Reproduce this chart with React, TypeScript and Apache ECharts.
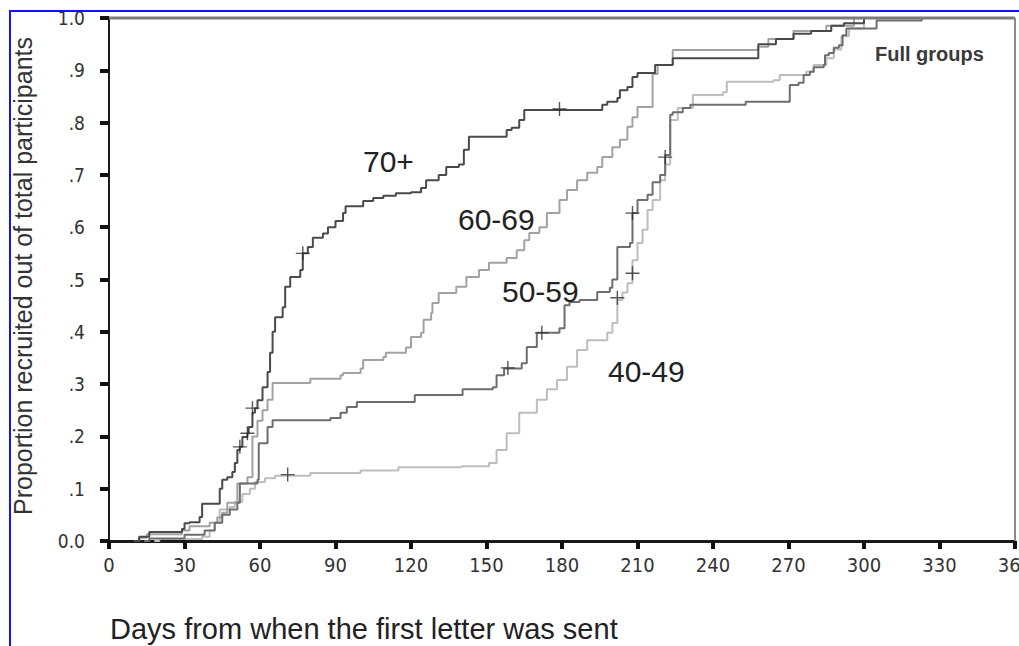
import React, { useEffect, useRef } from "react";
import * as echarts from "echarts";

// ---- data (day, cumulative proportion) ----
const group70: number[][] = [
  [10, 0], [12, 0.008], [16, 0.017], [29, 0.023], [30, 0.034], [32, 0.036], [36, 0.046], [37, 0.071],
  [43, 0.071], [44, 0.1], [45, 0.117], [47, 0.122], [49, 0.132], [50, 0.149], [51, 0.174], [52, 0.18],
  [53, 0.199], [55, 0.206], [55.5, 0.218], [57, 0.245], [58, 0.254], [59, 0.269], [61, 0.294], [63, 0.323],
  [64, 0.36], [65, 0.4], [66, 0.428], [69, 0.447], [70, 0.486], [72, 0.505], [76, 0.518], [77, 0.55],
  [79, 0.562], [81, 0.58], [85, 0.588], [87, 0.6], [90, 0.612], [93, 0.627], [94, 0.64], [101, 0.65],
  [105, 0.656], [109, 0.66], [114, 0.665], [120, 0.667], [124, 0.675], [126, 0.69], [131, 0.7], [134, 0.715],
  [139, 0.72], [141, 0.748], [143, 0.773], [158, 0.786], [160, 0.79], [163, 0.805], [165, 0.824], [196, 0.834],
  [198, 0.84], [202, 0.847], [203, 0.862], [206, 0.868], [208, 0.887], [210, 0.895], [217, 0.91], [224, 0.923],
  [258, 0.95], [265, 0.96], [272, 0.97], [279, 0.975], [287, 0.985], [292, 0.99], [300, 1.0]
];
const group6069: number[][] = [
  [10, 0], [12, 0.006], [15, 0.013], [29, 0.02], [32, 0.028], [40, 0.035], [43, 0.045], [45, 0.054],
  [47, 0.073], [51, 0.11], [55, 0.122], [57, 0.2], [59, 0.23], [61, 0.25], [63, 0.27], [65, 0.302],
  [80, 0.31], [92, 0.317], [93, 0.321], [100, 0.33], [101, 0.346], [109, 0.352], [110, 0.36], [118, 0.37],
  [120, 0.39], [124, 0.398], [125, 0.423], [128, 0.436], [128.5, 0.455], [131, 0.474], [138, 0.486], [142, 0.505],
  [147, 0.518], [151, 0.532], [158, 0.541], [162, 0.556], [165, 0.575], [167, 0.589], [171, 0.6], [174, 0.627],
  [179, 0.652], [182, 0.671], [186, 0.69], [190, 0.704], [194, 0.715], [196, 0.734], [200, 0.753], [203, 0.767],
  [206, 0.792], [208, 0.81], [210, 0.83], [216, 0.893], [218, 0.91], [224, 0.939], [258, 0.945], [262, 0.96],
  [272, 0.975], [285, 0.985], [296, 1.0]
];
const group5059: number[][] = [
  [14, 0], [16, 0.005], [30, 0.012], [38, 0.02], [42, 0.035], [45, 0.05], [48, 0.06], [51, 0.073],
  [52, 0.11], [59, 0.117], [59.5, 0.187], [63, 0.218], [65, 0.231], [88, 0.235], [92, 0.245], [94.5, 0.256],
  [98.5, 0.266], [121.5, 0.279], [140.5, 0.29], [152.5, 0.294], [154, 0.317], [157, 0.33], [164, 0.34], [166, 0.371],
  [170, 0.398], [179, 0.407], [181, 0.451], [183, 0.457], [187, 0.461], [194, 0.476], [199, 0.484], [200, 0.5],
  [202, 0.562], [207, 0.57], [208, 0.627], [210, 0.652], [214, 0.662], [216, 0.686], [219, 0.7], [221, 0.738],
  [223, 0.815], [224, 0.82], [228, 0.828], [231, 0.834], [253, 0.84], [270.5, 0.872], [274, 0.876], [276, 0.891],
  [278.5, 0.897], [280, 0.906], [284, 0.91], [284.5, 0.929], [286, 0.933], [288, 0.943], [290, 0.948], [291.5, 0.967],
  [293, 0.98], [305, 0.995], [323, 1.0]
];
const group4049: number[][] = [
  [18, 0], [20, 0.004], [37, 0.008], [40, 0.02], [42, 0.035], [44, 0.06], [48, 0.065], [50, 0.075],
  [53, 0.09], [56, 0.1], [58, 0.113], [62, 0.12], [66, 0.125], [80, 0.13], [100, 0.135], [115, 0.141],
  [140, 0.143], [151, 0.149], [154, 0.174], [158, 0.206], [163, 0.245], [170, 0.27], [174, 0.29], [178, 0.308],
  [182, 0.333], [186, 0.365], [190, 0.384], [198, 0.398], [200, 0.417], [202, 0.461], [204, 0.475], [206, 0.493],
  [208, 0.537], [210, 0.57], [212, 0.595], [214, 0.633], [216, 0.652], [219, 0.69], [221, 0.72], [223, 0.805],
  [226, 0.828], [232, 0.853], [244, 0.858], [245.5, 0.878], [264, 0.881], [266.5, 0.891], [277, 0.897], [280, 0.91],
  [285, 0.923], [288, 0.94], [291, 0.965], [294, 0.98], [300, 1.0]
];
const censor70: number[][] = [[52, 0.18], [55, 0.206], [57, 0.254], [77, 0.55], [179, 0.826]];
const censor5059: number[][] = [[158.5, 0.331], [172, 0.398], [208, 0.627], [221, 0.734]];
const censor4049: number[][] = [[71, 0.127], [202, 0.465], [208, 0.512]];

const groupNames = ["70+", "60-69", "50-59", "40-49"];
const xTickValues = [0, 30, 60, 90, 120, 150, 180, 210, 240, 270, 300, 330, 360];
const yTickLabels = ["0.0", ".1", ".2", ".3", ".4", ".5", ".6", ".7", ".8", ".9", "1.0"];
const xTitle = "Days from when the first letter was sent";
const yTitle = "Proportion recruited out of total participants";
const noteText = "Full groups";

const W = 1019;
const H = 646;
const G = { left: 109, right: 4, top: 18, bottom: 105 };
const CROSS = "path://M6.3,0H7.7V6.3H14V7.7H7.7V14H6.3V7.7H0V6.3H6.3Z";
const NARROW = "'Liberation Sans Narrow', 'DejaVu Sans Condensed', 'Liberation Sans', sans-serif";
const SANS = "'Liberation Sans', Arial, sans-serif";

export default function App() {
  const ref = useRef<HTMLDivElement>(null);
  useEffect(() => {
    document.body.style.margin = "0";
    document.body.style.overflow = "hidden";
    if (!ref.current) return;
    const chart = echarts.init(ref.current, null, { renderer: "svg", width: W, height: H });
    const stepLine = (name: string, data: number[][], color: string, width: number) => ({
      name, type: "line", step: "end", data, symbol: "none",
      lineStyle: { color, width }, z: 3, silent: true,
    });
    const marks = (data: number[][]) => ({
      type: "scatter", data, symbol: CROSS, symbolSize: 14,
      itemStyle: { color: "#2a2a2a" }, z: 4, silent: true,
    });
    const px = (d: number) => G.left + (d / 360) * (W - G.left - G.right);
    const py = (p: number) => G.top + (1 - p) * (H - G.top - G.bottom);
    const label = (text: string, x: number, y: number) => ({
      type: "text", x, y, z: 10,
      style: { text, font: `30px ${SANS}`, fill: "#222", align: "left", verticalAlign: "top" },
    });
    chart.setOption({
      animation: false,
      backgroundColor: "#fff",
      grid: {
        left: G.left, right: G.right, top: G.top, bottom: G.bottom,
        containLabel: false, outerBoundsMode: "none",
      },
      xAxis: {
        type: "value", min: 0, max: 360, interval: 30,
        axisLine: { show: true, lineStyle: { color: "#1a1a1a", width: 3 } },
        axisTick: { show: true, length: 8, lineStyle: { color: "#111", width: 4 } },
        axisLabel: {
          margin: 14, color: "#333", fontSize: 20, fontFamily: NARROW, hideOverlap: false,
          formatter: (v: number) => (xTickValues.indexOf(v) >= 0 ? String(v) : ""),
        },
        splitLine: { show: false },
      },
      yAxis: {
        type: "value", min: 0, max: 1, interval: 0.1,
        axisLine: { show: true, lineStyle: { color: "#1a1a1a", width: 2 } },
        axisTick: { show: true, length: 9, lineStyle: { color: "#111", width: 4 } },
        axisLabel: {
          margin: 24, color: "#333", fontSize: 19, fontFamily: NARROW,
          formatter: (v: number) => yTickLabels[Math.round(v * 10)] ?? "",
        },
        splitLine: { show: false },
      },
      series: [
        stepLine(groupNames[3], group4049, "#bdbdbd", 2),
        stepLine(groupNames[1], group6069, "#a2a2a2", 2),
        stepLine(groupNames[2], group5059, "#6e6e6e", 2),
        stepLine(groupNames[0], group70, "#4a4a4a", 2),
        marks(censor70),
        marks(censor5059),
        marks(censor4049),
      ],
      graphic: [
        { type: "line", z: 20, shape: { x1: 9, y1: 11, x2: W, y2: 11 }, style: { stroke: "#1212ff", lineWidth: 2 } },
        { type: "line", z: 20, shape: { x1: 10, y1: 10, x2: 10, y2: H }, style: { stroke: "#1212ff", lineWidth: 2 } },
        { type: "line", z: 5, shape: { x1: px(0), y1: py(1), x2: px(360), y2: py(1) }, style: { stroke: "#7a7a7a", lineWidth: 3 } },
        { type: "line", z: 5, shape: { x1: px(360), y1: py(1), x2: px(360), y2: py(0) }, style: { stroke: "#8a8a8a", lineWidth: 2 } },
        label(groupNames[0], 363, 146),
        label(groupNames[1], 458, 204),
        label(groupNames[2], 502, 276),
        label(groupNames[3], 608, 356),
        {
          type: "text", x: 875, y: 44, z: 10,
          style: { text: noteText, font: `bold 20px ${SANS}`, fill: "#3a3a3a", align: "left", verticalAlign: "top" },
        },
        {
          type: "text", x: 110, y: 614, z: 10,
          style: { text: xTitle, font: `29px ${SANS}`, fill: "#222", align: "left", verticalAlign: "top" },
        },
        {
          type: "text", x: 23, y: 276, rotation: Math.PI / 2, z: 10,
          style: { text: yTitle, font: `25px ${SANS}`, fill: "#333", align: "center", verticalAlign: "middle" },
        },
      ],
    });
    return () => chart.dispose();
  }, []);
  return <div ref={ref} style={{ position: "fixed", left: 0, top: 0, width: W, height: H }} />;
}
